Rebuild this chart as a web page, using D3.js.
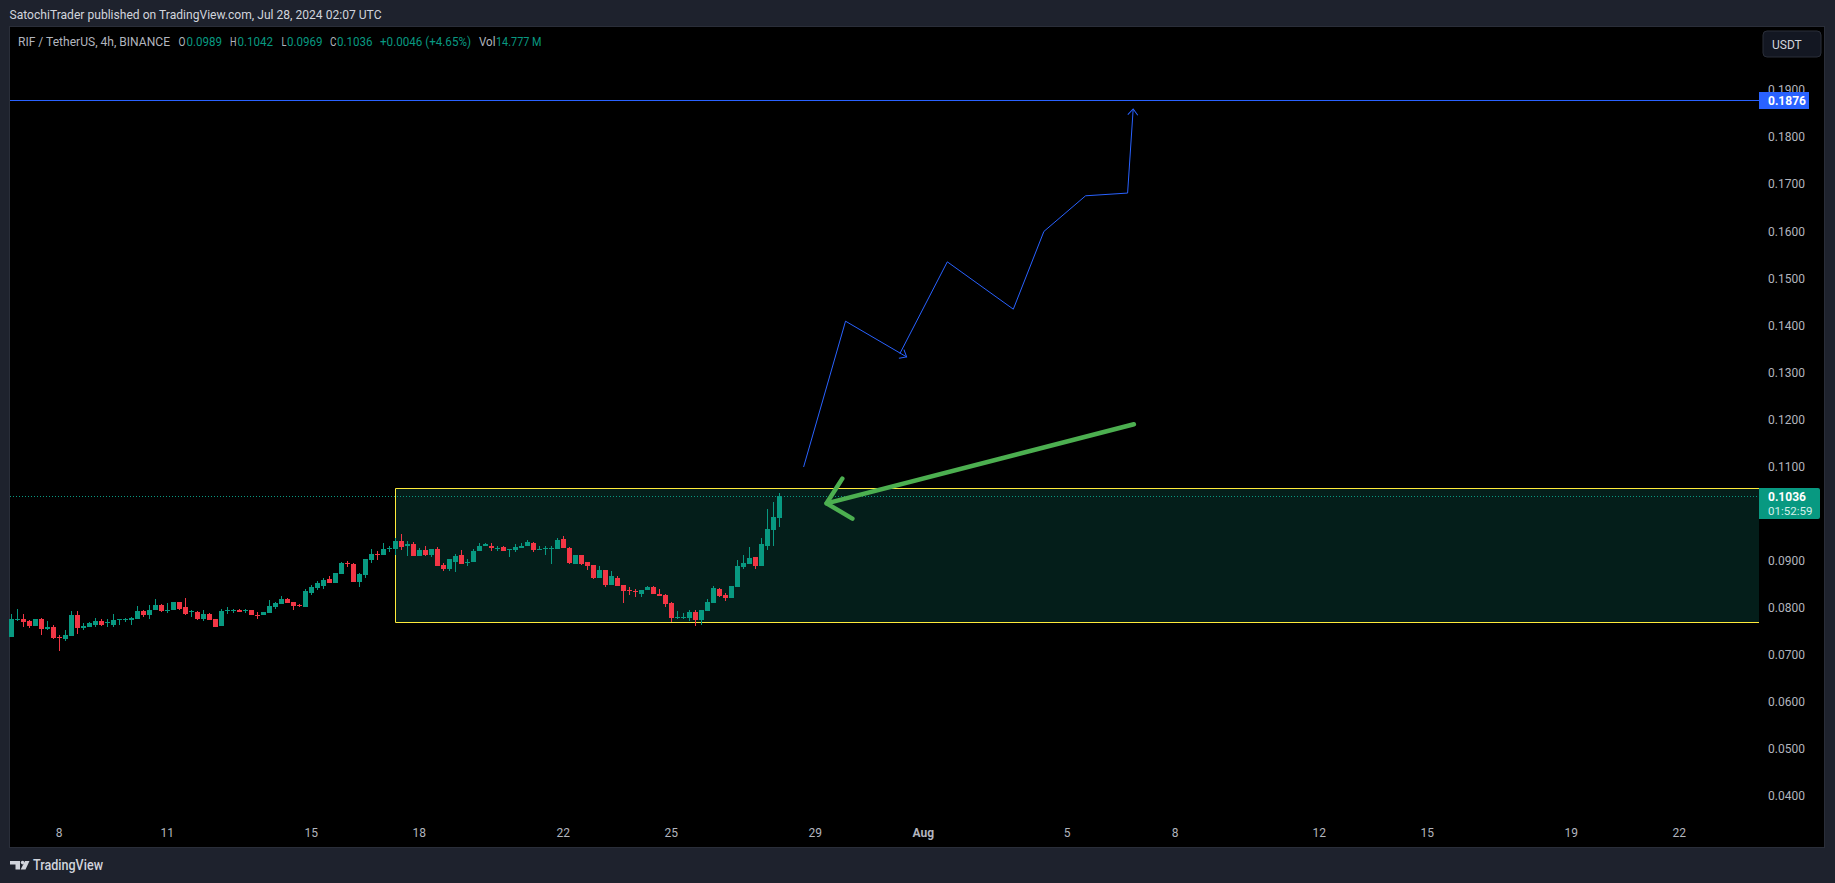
<!DOCTYPE html>
<html>
<head>
<meta charset="utf-8">
<script src="https://cdn.jsdelivr.net/npm/d3@7"></script>
<style>
	html, body { margin: 0; padding: 0; background: #1e222d; overflow: hidden; }
	svg { display: block; font-family: Roboto, "Liberation Sans", sans-serif; }
</style>
</head>
<body>
<svg id="chart" width="1835" height="883"></svg>
<script>
// bars, 4h, first one is Jul 6 16:00
const opens = [
	0.0735,0.0773,0.0775,0.0769,0.0760,0.0773,0.0752,0.0758,0.0735,0.0731,
	0.0737,0.0782,0.0754,0.0758,0.0762,0.0769,0.0765,0.0762,0.0771,0.0771,
	0.0771,0.0775,0.0790,0.0782,0.0792,0.0803,0.0792,0.0792,0.0809,0.0799,
	0.0788,0.0788,0.0773,0.0784,0.0773,0.0760,0.0790,0.0792,0.0794,0.0790,
	0.0792,0.0782,0.0782,0.0786,0.0799,0.0805,0.0816,0.0809,0.0803,0.0799,
	0.0830,0.0839,0.0845,0.0858,0.0850,0.0869,0.0892,0.0890,0.0852,0.0867,
	0.0899,0.0913,0.0909,0.0922,0.0922,0.0939,0.0928,0.0933,0.0907,0.0920,
	0.0909,0.0922,0.0888,0.0881,0.0896,0.0909,0.0892,0.0894,0.0918,0.0930,
	0.0930,0.0922,0.0926,0.0921,0.0920,0.0924,0.0928,0.0935,0.0921,0.0922,
	0.0922,0.0922,0.0943,0.0924,0.0890,0.0909,0.0894,0.0888,0.0862,0.0877,
	0.0847,0.0862,0.0847,0.0835,0.0833,0.0828,0.0835,0.0841,0.0826,0.0824,
	0.0807,0.0777,0.0777,0.0777,0.0788,0.0771,0.0790,0.0807,0.0837,0.0824,
	0.0818,0.0841,0.0884,0.0890,0.0905,0.0886,0.0930,0.0964,0.0989
];
const highs = [
	0.0784,0.0796,0.0784,0.0771,0.0775,0.0777,0.0769,0.0762,0.0741,0.0750,
	0.0790,0.0790,0.0765,0.0767,0.0777,0.0773,0.0775,0.0784,0.0775,0.0777,
	0.0779,0.0801,0.0794,0.0803,0.0816,0.0805,0.0807,0.0811,0.0811,0.0818,
	0.0794,0.0790,0.0792,0.0786,0.0773,0.0796,0.0799,0.0796,0.0796,0.0796,
	0.0794,0.0788,0.0788,0.0814,0.0811,0.0822,0.0818,0.0809,0.0805,0.0837,
	0.0847,0.0854,0.0860,0.0865,0.0871,0.0894,0.0898,0.0892,0.0871,0.0901,
	0.0922,0.0918,0.0935,0.0928,0.0945,0.0954,0.0939,0.0937,0.0924,0.0928,
	0.0922,0.0926,0.0892,0.0901,0.0911,0.0920,0.0901,0.0922,0.0935,0.0935,
	0.0935,0.0930,0.0928,0.0922,0.0933,0.0935,0.0941,0.0937,0.0930,0.0930,
	0.0930,0.0947,0.0950,0.0926,0.0909,0.0909,0.0894,0.0888,0.0886,0.0879,
	0.0875,0.0865,0.0847,0.0841,0.0837,0.0835,0.0843,0.0845,0.0837,0.0828,
	0.0811,0.0790,0.0786,0.0792,0.0794,0.0794,0.0816,0.0845,0.0839,0.0830,
	0.0845,0.0899,0.0909,0.0926,0.0905,0.0945,0.1007,0.1022,0.1042
];
const lows = [
	0.0735,0.0769,0.0756,0.0754,0.0760,0.0739,0.0750,0.0731,0.0705,0.0728,
	0.0737,0.0743,0.0750,0.0756,0.0756,0.0760,0.0758,0.0758,0.0762,0.0767,
	0.0762,0.0775,0.0779,0.0775,0.0792,0.0788,0.0786,0.0792,0.0794,0.0782,
	0.0779,0.0771,0.0769,0.0771,0.0756,0.0760,0.0784,0.0786,0.0788,0.0786,
	0.0782,0.0775,0.0782,0.0786,0.0796,0.0805,0.0807,0.0794,0.0799,0.0799,
	0.0824,0.0835,0.0837,0.0850,0.0850,0.0869,0.0884,0.0852,0.0841,0.0860,
	0.0892,0.0899,0.0909,0.0916,0.0909,0.0920,0.0907,0.0907,0.0907,0.0907,
	0.0905,0.0886,0.0875,0.0875,0.0873,0.0890,0.0886,0.0894,0.0918,0.0928,
	0.0918,0.0918,0.0918,0.0905,0.0916,0.0924,0.0928,0.0916,0.0920,0.0909,
	0.0890,0.0922,0.0924,0.0890,0.0890,0.0888,0.0879,0.0858,0.0862,0.0841,
	0.0847,0.0843,0.0807,0.0824,0.0820,0.0820,0.0835,0.0826,0.0822,0.0799,
	0.0767,0.0775,0.0775,0.0769,0.0760,0.0762,0.0790,0.0807,0.0820,0.0813,
	0.0818,0.0841,0.0881,0.0890,0.0881,0.0886,0.0920,0.0930,0.0969
];
const closes = [
	0.0773,0.0775,0.0767,0.0760,0.0773,0.0752,0.0758,0.0733,0.0733,0.0741,
	0.0782,0.0754,0.0760,0.0765,0.0769,0.0762,0.0767,0.0771,0.0773,0.0773,
	0.0777,0.0790,0.0782,0.0794,0.0803,0.0790,0.0794,0.0809,0.0796,0.0784,
	0.0790,0.0775,0.0784,0.0771,0.0758,0.0790,0.0792,0.0794,0.0788,0.0792,
	0.0782,0.0781,0.0788,0.0801,0.0807,0.0816,0.0807,0.0801,0.0802,0.0833,
	0.0841,0.0850,0.0856,0.0850,0.0871,0.0892,0.0891,0.0852,0.0869,0.0901,
	0.0913,0.0909,0.0922,0.0924,0.0939,0.0926,0.0933,0.0907,0.0920,0.0909,
	0.0922,0.0886,0.0881,0.0901,0.0907,0.0890,0.0896,0.0918,0.0930,0.0933,
	0.0924,0.0924,0.0918,0.0922,0.0926,0.0930,0.0937,0.0920,0.0922,0.0924,
	0.0924,0.0941,0.0924,0.0892,0.0909,0.0890,0.0886,0.0862,0.0877,0.0847,
	0.0865,0.0843,0.0833,0.0833,0.0831,0.0835,0.0841,0.0826,0.0822,0.0805,
	0.0777,0.0779,0.0779,0.0788,0.0771,0.0794,0.0809,0.0839,0.0822,0.0818,
	0.0843,0.0886,0.0892,0.0903,0.0886,0.0933,0.0966,0.0990,0.1036
];

// axes, 0.1000 sits behind the last price tag
const priceTicks = [0.19, 0.18, 0.17, 0.16, 0.15, 0.14, 0.13, 0.12, 0.11, 0.09, 0.08, 0.07, 0.06, 0.05, 0.04];
const dateTicks = ['2024-07-08','2024-07-11','2024-07-15','2024-07-18','2024-07-22','2024-07-25','2024-07-29','2024-08-01','2024-08-05','2024-08-08','2024-08-12','2024-08-15','2024-08-19','2024-08-22'];
const dateLabels = ['8','11','15','18','22','25','29','Aug','5','8','12','15','19','22'];

// drawings, in days after Jul 8 and price
const targetPrice = 0.1876;
const lastPrice = 0.1036;
const zoneStart = 9.34;
const zoneTop = 0.1051;
const zoneBottom = 0.0766;
const legOneDays = [20.675, 21.84, 23.536];
const legOnePrices = [0.10969, 0.14067, 0.13308];
const legTwoDays = [23.35, 24.667, 26.5, 27.35, 28.508, 29.675, 29.83];
const legTwoPrices = [0.1338, 0.15328, 0.14322, 0.15974, 0.16731, 0.16789, 0.18575];
const arrowDays = [29.85, 21.314];
const arrowPrices = [0.11877, 0.10197];
const arrowHeadDays = [21.75, 21.314, 22.03];
const arrowHeadPrices = [0.10722, 0.10197, 0.09872];

// header
const publishedText = 'SatochiTrader published on TradingView.com, Jul 28, 2024 02:07 UTC';
const symbolText = 'RIF / TetherUS, 4h, BINANCE';
const legendKeys = ['O', 'H', 'L', 'C', 'Vol'];
const legendValues = ['0.0989', '0.1042', '0.0969', '0.1036', '14.777 M'];
const changeText = '+0.0046 (+4.65%)';

const up = '#089981';
const down = '#f23645';
const axisGrey = '#b2b5be';
const paneRight = 1824, paneBottom = 847, priceAxisX = 1759;

const svg = d3.select('#chart');
const jul8 = Date.UTC(2024, 6, 8);
const dayDate = d => new Date(jul8 + d * 864e5);

const xScale = d3.scaleUtc()
	.domain([new Date(jul8), dayDate(20)])
	.range([59.3, 779.3]);
const yScale = d3.scaleLinear()
	.domain([0.19, 0.04])
	.range([89, 795]);

const xDay = d => xScale(dayDate(d));
const crisp = v => Math.round(v) + 0.5;

// pane
svg.append('rect')
	.attr('x', 9.5).attr('y', 26.5)
	.attr('width', paneRight - 9).attr('height', paneBottom - 26)
	.attr('fill', '#000').attr('stroke', '#2a2e39');

// zone behind the candles
const zoneX = Math.floor(xDay(zoneStart)) + 0.5;
const zoneY0 = Math.floor(yScale(zoneTop)) + 0.5;
const zoneY1 = Math.floor(yScale(zoneBottom)) + 0.5;
svg.append('rect')
	.attr('x', zoneX).attr('y', zoneY0)
	.attr('width', priceAxisX - zoneX)
	.attr('height', zoneY1 - zoneY0)
	.attr('fill', '#041e1a');
const zoneEdge = d3.path();
zoneEdge.moveTo(priceAxisX, zoneY0);
zoneEdge.lineTo(zoneX, zoneY0);
zoneEdge.lineTo(zoneX, zoneY1);
zoneEdge.lineTo(priceAxisX, zoneY1);
svg.append('path')
	.attr('d', zoneEdge.toString())
	.attr('fill', 'none')
	.attr('stroke', '#ffeb3b')
	.attr('stroke-width', 1);

// candles
const bars = opens.map((o, i) => ({
	day: (i - 8) / 6,
	open: o,
	high: highs[i],
	low: lows[i],
	close: closes[i]
}));
const barColor = d => d.close >= d.open ? up : down;

svg.append('g').selectAll('rect')
	.data(bars)
	.join('rect')
		.attr('x', d => Math.floor(xDay(d.day)))
		.attr('y', d => Math.round(yScale(d.high)))
		.attr('width', 1)
		.attr('height', d => Math.max(1, Math.round(yScale(d.low)) - Math.round(yScale(d.high))))
		.attr('fill', barColor);

svg.append('g').selectAll('rect')
	.data(bars)
	.join('rect')
		.attr('x', d => Math.floor(xDay(d.day)) - 2)
		.attr('y', d => Math.round(yScale(Math.max(d.open, d.close))))
		.attr('width', 5)
		.attr('height', d => Math.max(1, Math.round(yScale(Math.min(d.open, d.close))) - Math.round(yScale(Math.max(d.open, d.close)))))
		.attr('fill', barColor);

// horizontal lines
svg.append('line')
	.attr('x1', 10).attr('x2', priceAxisX)
	.attr('y1', crisp(yScale(targetPrice))).attr('y2', crisp(yScale(targetPrice)))
	.attr('stroke', '#2962ff');
svg.append('line')
	.attr('x1', 10).attr('x2', priceAxisX)
	.attr('y1', crisp(yScale(lastPrice))).attr('y2', crisp(yScale(lastPrice)))
	.attr('stroke', up)
	.attr('stroke-dasharray', '1 2');

// projection path, two legs with open arrow heads
svg.append('defs').append('marker')
	.attr('id', 'openArrow')
	.attr('viewBox', '-9 -7 11 14')
	.attr('markerUnits', 'userSpaceOnUse')
	.attr('markerWidth', 11).attr('markerHeight', 14)
	.attr('orient', 'auto')
	.append('path')
		.attr('d', 'M-6,-5 L0,0 L-6,5')
		.attr('fill', 'none')
		.attr('stroke', '#2962ff');

const pathLine = d3.line().x(d => xDay(d[0])).y(d => yScale(d[1]));
[[legOneDays, legOnePrices], [legTwoDays, legTwoPrices]].forEach(([days, prices]) => {
	svg.append('path')
		.attr('d', pathLine(d3.zip(days, prices)))
		.attr('fill', 'none')
		.attr('stroke', '#2962ff')
		.attr('marker-end', 'url(#openArrow)');
});

// green arrow
[[arrowDays, arrowPrices], [arrowHeadDays, arrowHeadPrices]].forEach(([days, prices]) => {
	svg.append('path')
		.attr('d', pathLine(d3.zip(days, prices)))
		.attr('fill', 'none')
		.attr('stroke', '#4caf50')
		.attr('stroke-width', 4.5)
		.attr('stroke-linecap', 'round')
		.attr('stroke-linejoin', 'round');
});

// axes
const yAxis = svg.append('g')
	.attr('transform', `translate(${priceAxisX},1)`)
	.call(d3.axisRight(yScale).tickValues(priceTicks).tickSize(0).tickPadding(9).tickFormat(d3.format('.4f')));
yAxis.select('.domain').remove();
yAxis.selectAll('text').attr('fill', axisGrey).attr('font-size', 12).attr('font-family', 'Roboto, sans-serif');

const xAxis = svg.append('g')
	.attr('transform', 'translate(-0.6,819)')
	.call(d3.axisBottom(xScale)
		.tickValues(dateTicks.map(d => new Date(d + 'T00:00:00Z')))
		.tickSize(0).tickPadding(9)
		.tickFormat((d, i) => dateLabels[i]));
xAxis.select('.domain').remove();
xAxis.selectAll('text')
	.attr('fill', axisGrey)
	.attr('font-size', 12)
	.attr('font-family', 'Roboto, sans-serif')
	.attr('font-weight', (d, i) => dateLabels[i] === 'Aug' ? 700 : 400);

// price tags
svg.append('rect')
	.attr('x', priceAxisX).attr('y', yScale(targetPrice) - 8.3)
	.attr('width', 50).attr('height', 17)
	.attr('fill', '#2962ff');
svg.append('text')
	.attr('x', priceAxisX + 9).attr('y', yScale(targetPrice) + 4.7)
	.attr('fill', '#fff').attr('font-size', 12).attr('font-weight', 700)
	.text(d3.format('.4f')(targetPrice));

svg.append('path')
	.attr('d', `M${priceAxisX},488h59a2,2 0 0 1 2,2v27a2,2 0 0 1 -2,2h-59z`)
	.attr('fill', up);
svg.append('text')
	.attr('x', priceAxisX + 9).attr('y', 500.5)
	.attr('fill', '#fff').attr('font-size', 12).attr('font-weight', 700)
	.text(d3.format('.4f')(lastPrice));
svg.append('text')
	.attr('x', priceAxisX + 9).attr('y', 515)
	.attr('fill', '#d5efe9').attr('font-size', 11.5)
	.text('01:52:59');

// currency button
svg.append('rect')
	.attr('x', 1763).attr('y', 31).attr('width', 58).attr('height', 26).attr('rx', 4)
	.attr('fill', '#131722').attr('stroke', '#2a2e39');
svg.append('text')
	.attr('x', 1772).attr('y', 48.5)
	.attr('fill', '#d1d4dc').attr('font-size', 12)
	.text('USDT');

// top texts, fitted to the measured widths
const fitted = (text, x, y, width, fill) => svg.append('text')
	.attr('x', x).attr('y', y)
	.attr('fill', fill)
	.attr('font-size', 13)
	.attr('textLength', width)
	.attr('lengthAdjust', 'spacingAndGlyphs')
	.text(text);

fitted(publishedText, 9.5, 19, 372, '#d1d4dc');
fitted(symbolText, 18, 46, 152, axisGrey);
const keySlots = [[178.5, 7], [230, 6.5], [281.5, 5], [330, 6.5], [479, 16.5]];
const valueSlots = [[186.5, 35.5], [237.5, 35.5], [287, 35.5], [337, 35.5], [496, 45.5]];
legendKeys.forEach((k, i) => fitted(k, keySlots[i][0], 46, keySlots[i][1], axisGrey));
legendValues.forEach((v, i) => fitted(v, valueSlots[i][0], 46, valueSlots[i][1], up));
fitted(changeText, 380, 46, 91, up);

// footer logo
const logo = svg.append('g').attr('fill', '#d1d4dc');
logo.append('path').attr('d', 'M10,861h10v8.5h-4.5v-5h-5.5z');
logo.append('circle').attr('cx', 22.6).attr('cy', 862.6).attr('r', 1.8);
logo.append('path').attr('d', 'M25,861h4.5l-4,8.5h-4.8z');
svg.append('text')
	.attr('x', 33).attr('y', 870)
	.attr('fill', '#d1d4dc')
	.attr('font-size', 14)
	.attr('font-weight', 500)
	.attr('textLength', 70)
	.attr('lengthAdjust', 'spacingAndGlyphs')
	.text('TradingView');
</script>
</body>
</html>
